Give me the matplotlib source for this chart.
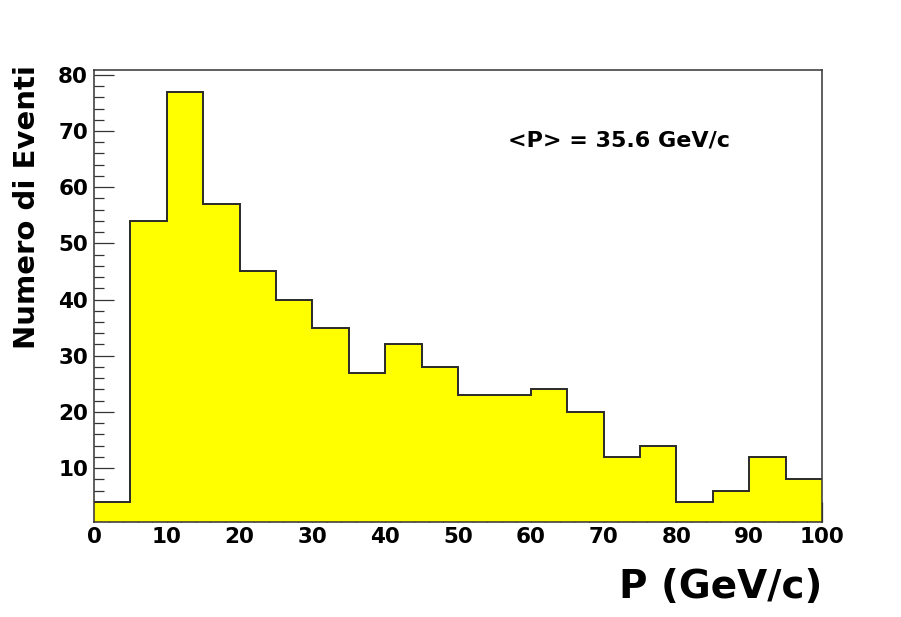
import numpy as np
import matplotlib
matplotlib.use("Agg")
import matplotlib.pyplot as plt
from matplotlib.ticker import MultipleLocator

# momentum histogram: 20 bins of 5 GeV/c between 0 and 100
bin_edges = np.arange(0, 105, 5)
counts = [4, 54, 77, 57, 45, 40, 35, 27, 32, 28,
          23, 23, 24, 20, 12, 14, 4, 6, 12, 8]
mean_label = "<P> = 35.6 GeV/c"

plt.rcParams["font.family"] = "DejaVu Sans"
plt.rcParams["font.weight"] = "bold"

fig = plt.figure(figsize=(9.01, 6.17), dpi=100)
fig.patch.set_facecolor("white")
ax = fig.add_axes([0.1043, 0.154, 0.808, 0.7325])

ax.stairs(counts, bin_edges, baseline=0, fill=True,
          facecolor="#ffff00", edgecolor="none")
ax.stairs(counts, bin_edges, baseline=None, color="#2a2a2a", linewidth=1.4)

ax.set_xlim(0, 100)
ax.set_ylim(0.4, 80.85)
ax.set_axisbelow(True)

ax.xaxis.set_major_locator(MultipleLocator(10))
ax.xaxis.set_minor_locator(MultipleLocator(2))
ax.yaxis.set_major_locator(MultipleLocator(10))
ax.yaxis.set_minor_locator(MultipleLocator(2))
ax.set_yticks(range(10, 81, 10))

ax.tick_params(which="both", direction="in", top=False, right=False,
               color="#333333", width=0.9)
ax.tick_params(which="major", length=14.4)
ax.tick_params(which="minor", length=7.2)
ax.tick_params(axis="y", which="major", pad=4.3, labelsize=15.5)
ax.tick_params(axis="x", which="major", pad=3.5, labelsize=15.5)
for lab in ax.get_xticklabels() + ax.get_yticklabels():
    lab.set_fontweight("bold")

for sp in ax.spines.values():
    sp.set_color("#333333")
    sp.set_linewidth(1.1)

ax.set_xlabel("P (GeV/c)", fontsize=28, fontweight="bold", loc="right")
ax.xaxis.set_label_coords(1.0, -0.168)
ax.xaxis.label.set_verticalalignment("baseline")

ax.set_ylabel("Numero di Eventi", fontsize=21, fontweight="bold", loc="top")
ax.yaxis.set_label_coords(-0.092, 1.011)
ax.yaxis.label.set_verticalalignment("center")

ax.text(0.569, 0.830, mean_label, transform=ax.transAxes,
        fontsize=16, fontweight="bold", ha="left", va="baseline")

fig.savefig("out.png", dpi=100, facecolor="white")
